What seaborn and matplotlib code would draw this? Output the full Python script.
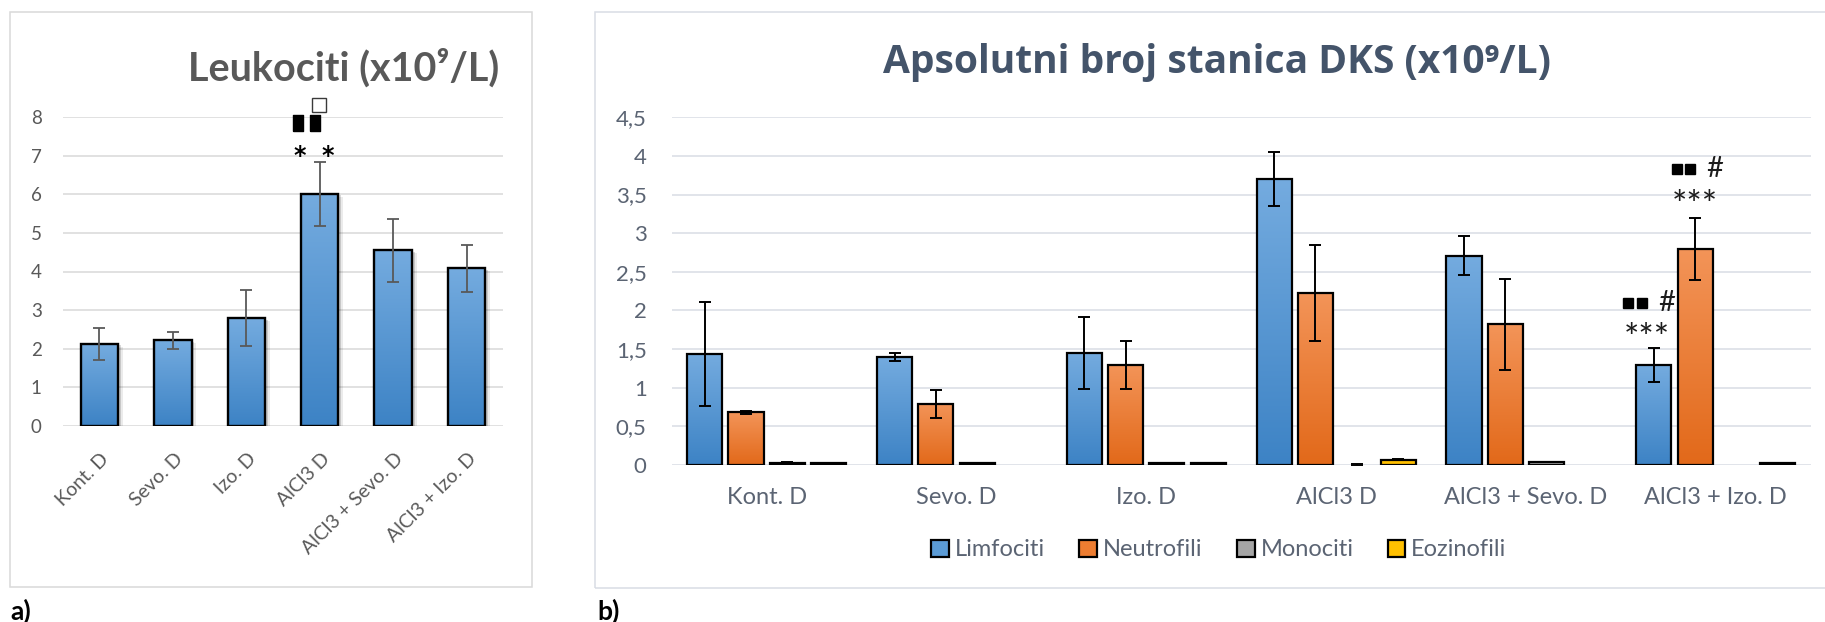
import numpy as np
import pandas as pd
import matplotlib
matplotlib.use("Agg")
import matplotlib.pyplot as plt
import matplotlib.patheffects as pe
from matplotlib.colors import LinearSegmentedColormap
from matplotlib.patches import Rectangle, Patch
import seaborn as sns

# ---------------- data ----------------
groups = ["Kont. D", "Sevo. D", "Izo. D", "AlCl3 D", "AlCl3 + Sevo. D", "AlCl3 + Izo. D"]

leukociti = [2.12, 2.22, 2.79, 6.01, 4.55, 4.08]
leukociti_err = [0.42, 0.22, 0.73, 0.84, 0.82, 0.62]

cell_types = ["Limfociti", "Neutrofili", "Monociti", "Eozinofili"]
limfociti = [1.44, 1.40, 1.45, 3.70, 2.71, 1.29]
limfociti_err = [0.67, 0.05, 0.47, 0.35, 0.25, 0.22]
neutrofili = [0.68, 0.79, 1.30, 2.23, 1.82, 2.80]
neutrofili_err = [0.02, 0.18, 0.31, 0.62, 0.59, 0.40]
monociti = [0.03, 0.03, 0.03, 0.0, 0.04, 0.0]
monociti_err = [0.01, 0.0, 0.0, 0.01, 0.0, 0.0]
eozinofili = [0.02, 0.0, 0.03, 0.07, 0.0, 0.03]
eozinofili_err = [0.0, 0.0, 0.0, 0.01, 0.0, 0.0]

yticks_a = [0, 1, 2, 3, 4, 5, 6, 7, 8]
yticks_b = [0, 0.5, 1, 1.5, 2, 2.5, 3, 3.5, 4, 4.5]
yticklabels_b = ["0", "0,5", "1", "1,5", "2", "2,5", "3", "3,5", "4", "4,5"]

# ---------------- style ----------------
sns.set_style("white")
plt.rcParams["font.family"] = ["Lato", "DejaVu Sans"]

BLUE_TOP, BLUE_BOT = "#74ABDF", "#3D83C5"
ORANGE_TOP, ORANGE_BOT = "#F39458", "#E2691A"
GRAY, YELLOW = "#A5A5A5", "#FFC000"
TXT_A = "#595959"
TXT_B = "#5B6473"
TITLE_B = "#44546A"

W, H = 1825, 622
fig = plt.figure(figsize=(W / 100, H / 100), dpi=100)


def fx(px):
    return px / W


def fy(py):
    return 1 - py / H


def fit_width(text, target_px):
    renderer = fig.canvas.get_renderer()
    width = text.get_window_extent(renderer=renderer).width
    text.set_fontsize(text.get_fontsize() * target_px / width)


# chart-area frames
fig.add_artist(Rectangle((fx(10), fy(587)), fx(522), (587 - 12) / H, fill=False,
                         ec="#D9D9D9", lw=1.1, transform=fig.transFigure))
fig.add_artist(Rectangle((fx(595), fy(588)), fx(1248), (588 - 12) / H, fill=False,
                         ec="#D9DDE4", lw=1.1, transform=fig.transFigure))

ax_a = fig.add_axes([fx(62.7), fy(425.7), fx(440.6), 308.4 / H])
ax_b = fig.add_axes([fx(671.7), fy(465), fx(1139), 347.7 / H])


def finish_bar(ax, p, top, bottom, lw, shadow=False):
    x, y, w, h = p.get_x(), p.get_y(), p.get_width(), p.get_height()
    if h <= 0:
        p.set_visible(False)
        return
    p.set_edgecolor("none")
    if shadow:
        p.set_path_effects([
            pe.SimplePatchShadow(offset=(3.5, -2), shadow_rgbFace="black", alpha=0.08),
            pe.SimplePatchShadow(offset=(2, -1), shadow_rgbFace="black", alpha=0.15),
            pe.Normal()])
    cmap = LinearSegmentedColormap.from_list("bar", [bottom, top])
    im = ax.imshow(np.linspace(0, 1, 100).reshape(-1, 1), extent=(x, x + w, y, y + h),
                   origin="lower", cmap=cmap, aspect="auto", interpolation="bilinear",
                   zorder=p.get_zorder() + 0.1)
    im.set_clip_path(p)
    ax.add_patch(Rectangle((x, y), w, h, fill=False, ec="black", lw=lw,
                           zorder=p.get_zorder() + 0.2))


# ---------------- panel a: Leukociti ----------------
df_a = pd.DataFrame({"group": groups, "value": leukociti})
sns.barplot(data=df_a, x="group", y="value", order=groups, color=BLUE_BOT, saturation=1,
            width=0.51, errorbar=None, ax=ax_a)
for p in list(ax_a.patches):
    cx = p.get_x() + p.get_width() / 2
    i = int(round(cx))
    finish_bar(ax_a, p, BLUE_TOP, BLUE_BOT, 1.7, shadow=True)
    ax_a.errorbar(cx, p.get_height(), yerr=leukociti_err[i], fmt="none", ecolor="#595959",
                  elinewidth=1.3, capsize=4.2, capthick=1.3, zorder=5)

ax_a.set_xlim(-0.5, len(groups) - 0.5)
ax_a.set_ylim(0, 8)
ax_a.set_yticks(yticks_a)
ax_a.set_yticklabels([str(t) for t in yticks_a])
ax_a.yaxis.grid(True, color="#D9D9D9", lw=1.1)
ax_a.set_axisbelow(True)
for s in ax_a.spines.values():
    s.set_visible(False)
ax_a.tick_params(axis="y", length=0, pad=15, labelsize=13.5, labelcolor=TXT_A)
ax_a.tick_params(axis="x", length=0)
ax_a.set_xticks(range(len(groups)))
ax_a.set_xticklabels([])
ax_a.set_xlabel("")
ax_a.set_ylabel("")
for i, g in enumerate(groups):
    ax_a.annotate(g, xy=(i, 0), xycoords=("data", "axes fraction"), xytext=(5, -22),
                  textcoords="offset points", rotation=45, rotation_mode="anchor",
                  ha="right", va="center", fontsize=14, color=TXT_A)

# significance marks over the AlCl3 D bar
ia = 3
for dx in (-0.27, 0.11):
    ax_a.text(ia + dx, 6.99, "*", ha="center", va="center", fontsize=17, fontweight="bold",
              color="black", zorder=6, family="DejaVu Sans")
rect_marker = [(-0.3, -0.5), (0.3, -0.5), (0.3, 0.5), (-0.3, 0.5), (-0.3, -0.5)]
ax_a.plot([ia - 0.29, ia - 0.065], [7.86, 7.86], ls="none", marker=rect_marker, ms=11,
          color="black", mec="black", clip_on=False, zorder=6)
ax_a.plot([ia - 0.003], [8.32], ls="none", marker="s", ms=10, mfc="white", mec="#3a3a3a",
          mew=1.0, clip_on=False, zorder=6)

# ---------------- panel b: Apsolutni broj stanica DKS ----------------
series = [limfociti, neutrofili, monociti, eozinofili]
series_err = [limfociti_err, neutrofili_err, monociti_err, eozinofili_err]
rows = []
for gi, g in enumerate(groups):
    for t, vals in zip(cell_types, series):
        rows.append((g, t, vals[gi]))
df_b = pd.DataFrame(rows, columns=["group", "type", "value"])
palette = dict(zip(cell_types, [BLUE_BOT, ORANGE_BOT, GRAY, YELLOW]))
group_width = 0.87
sns.barplot(data=df_b, x="group", y="value", hue="type", order=groups, hue_order=cell_types,
            palette=palette, saturation=1, width=group_width, gap=0.15, errorbar=None,
            legend=False, ax=ax_b)
fills = [(BLUE_TOP, BLUE_BOT), (ORANGE_TOP, ORANGE_BOT), (GRAY, GRAY), (YELLOW, YELLOW)]
slot = group_width / len(cell_types)
for p in list(ax_b.patches):
    cx = p.get_x() + p.get_width() / 2
    gi = int(round(cx))
    hi = int(round((cx - gi) / slot + 1.5))
    top, bot = fills[hi]
    h = p.get_height()
    finish_bar(ax_b, p, top, bot, 1.6)
    e = series_err[hi][gi]
    if e > 0:
        ax_b.errorbar(cx, h, yerr=e, fmt="none", ecolor="black", elinewidth=1.4,
                      capsize=4.3, capthick=1.4, zorder=5)

ax_b.set_xlim(-0.5, len(groups) - 0.5)
ax_b.set_ylim(0, 4.5)
ax_b.set_yticks(yticks_b)
ax_b.set_yticklabels(yticklabels_b)
ax_b.yaxis.grid(True, color="#D9DDE4", lw=1.1)
ax_b.set_axisbelow(True)
for s in ax_b.spines.values():
    s.set_visible(False)
ax_b.tick_params(axis="y", length=0, pad=18, labelsize=16, labelcolor=TXT_B)
ax_b.tick_params(axis="x", length=0, pad=16, labelsize=17, labelcolor=TXT_B)
ax_b.set_xlabel("")
ax_b.set_ylabel("")

# significance marks over the AlCl3 + Izo. D bars
ib = 5
mark_color = "#1c1c1c"
for (xs, y_sq, x_hash, x_star, y_star) in [
        ((ib - 0.460, ib - 0.389), 2.10, ib - 0.257, ib - 0.365, 1.62),
        ((ib - 0.204, ib - 0.136), 3.83, ib - 0.004, ib - 0.112, 3.34)]:
    ax_b.plot(xs, [y_sq, y_sq], ls="none", marker="s", ms=7, color="black", zorder=6,
              clip_on=False)
    ax_b.text(x_hash, y_sq, "#", ha="center", va="center", fontsize=21, color=mark_color,
              zorder=6)
    ax_b.text(x_star, y_star, "***", ha="center", va="center", fontsize=26,
              color=mark_color, zorder=6)

handles = [Patch(facecolor=c, edgecolor="black", lw=1.6) for c in [
    "#5B9BD5", "#ED7D31", GRAY, YELLOW]]
fig.legend(handles, cell_types, loc="center", bbox_to_anchor=(fx(1219), fy(550)), ncol=4,
           frameon=False, fontsize=17, handlelength=0.75, handleheight=0.75,
           handletextpad=0.25, columnspacing=1.45, labelcolor=TXT_B)

# ---------------- titles and panel letters ----------------
title_a = fig.text(fx(188), fy(81), "Leukociti (x10⁹/L)", fontsize=26, fontweight="bold",
                   color=TXT_A, ha="left", va="baseline")
title_b = fig.text(fx(883), fy(73), "Apsolutni broj stanica DKS (x10⁹/L)", fontsize=25,
                   fontweight="bold", color=TITLE_B, ha="left", va="baseline",
                   family=["Open Sans", "DejaVu Sans"])
fit_width(title_a, 312)
fit_width(title_b, 670)
fig.text(fx(10), fy(611), "a)", fontsize=19, fontweight="bold", color="black",
         ha="left", va="center")
fig.text(fx(597), fy(611), "b)", fontsize=19, fontweight="bold", color="black",
         ha="left", va="center")

fig.savefig("out.png", dpi=100, facecolor="white")
